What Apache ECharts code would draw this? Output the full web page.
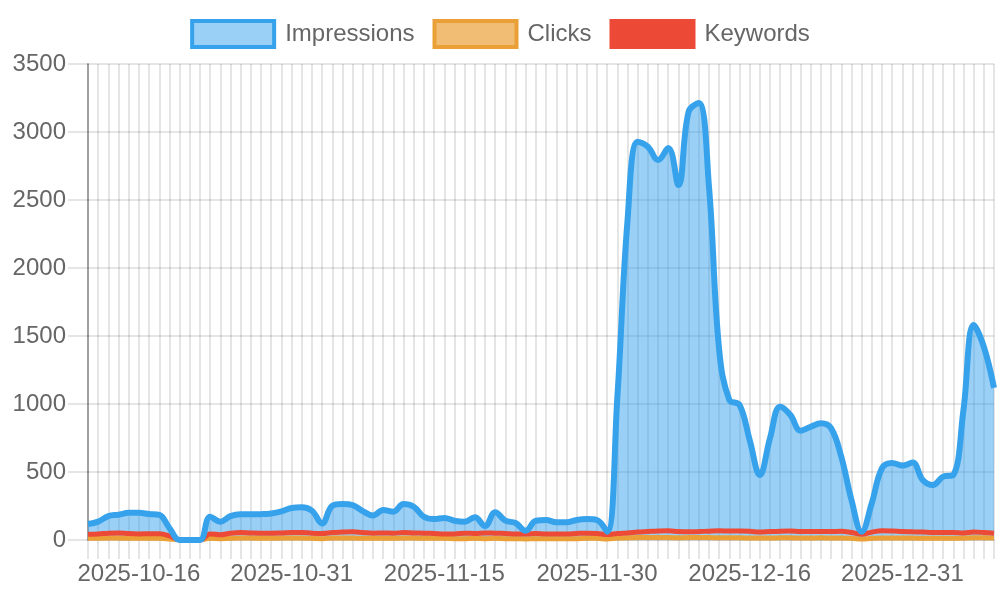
<!DOCTYPE html>
<html>
<head>
<meta charset="utf-8">
<script src="https://cdn.jsdelivr.net/npm/echarts@6/dist/echarts.min.js"></script>
<style>html,body{margin:0;padding:0;background:#fff}#c{width:1000px;height:600px}</style>
</head>
<body>
<div id="c"></div>
<script>
const dates = [
"2025-10-11","2025-10-12","2025-10-13","2025-10-14","2025-10-15","2025-10-16","2025-10-17","2025-10-18","2025-10-19","2025-10-20",
"2025-10-21","2025-10-22","2025-10-23","2025-10-24","2025-10-25","2025-10-26","2025-10-27","2025-10-28","2025-10-29","2025-10-30",
"2025-10-31","2025-11-01","2025-11-02","2025-11-03","2025-11-04","2025-11-05","2025-11-06","2025-11-07","2025-11-08","2025-11-09",
"2025-11-10","2025-11-11","2025-11-12","2025-11-13","2025-11-14","2025-11-15","2025-11-16","2025-11-17","2025-11-18","2025-11-19",
"2025-11-20","2025-11-21","2025-11-22","2025-11-23","2025-11-24","2025-11-25","2025-11-26","2025-11-27","2025-11-28","2025-11-29",
"2025-11-30","2025-12-01","2025-12-02","2025-12-03","2025-12-04","2025-12-05","2025-12-06","2025-12-07","2025-12-09","2025-12-10",
"2025-12-11","2025-12-12","2025-12-13","2025-12-14","2025-12-15","2025-12-16","2025-12-17","2025-12-18","2025-12-19","2025-12-20",
"2025-12-21","2025-12-22","2025-12-23","2025-12-24","2025-12-25","2025-12-26","2025-12-27","2025-12-28","2025-12-29","2025-12-30",
"2025-12-31","2026-01-01","2026-01-02","2026-01-03","2026-01-04","2026-01-05","2026-01-06","2026-01-07","2026-01-08","2026-01-09"
];
const impressions = [
118,135,176,186,200,200,191,184,88,0,
0,0,171,135,176,189,189,190,195,210,
235,240,215,122,252,265,257,212,180,220,
208,265,245,171,154,162,142,135,167,103,
204,142,125,68,142,147,130,130,147,154,
147,61,1050,2350,2929,2892,2794,2882,2610,3150,
3213,2600,1400,1030,993,735,478,750,980,919,
804,833,858,821,612,294,61,272,529,566,
547,569,441,404,466,478,956,1581,1421,1118
];
const clicks = [
12,12,14,14,12,12,12,12,8,2,
2,2,12,10,12,14,14,12,12,14,
14,14,12,10,14,14,14,12,12,12,
12,14,14,12,12,12,10,10,12,10,
12,10,10,8,10,10,10,10,10,12,
12,8,14,16,18,18,18,18,16,18,
18,18,16,16,16,14,14,14,16,16,
14,14,16,14,14,12,8,12,14,14,
14,14,12,12,12,12,14,16,16,14
];
const keywords = [
42,44,50,52,47,45,46,46,30,0,
0,0,45,38,50,55,52,50,50,52,
55,55,50,48,55,58,60,55,50,52,
50,55,52,50,48,45,45,50,48,52,
50,48,45,45,48,45,45,45,48,50,
48,40,48,52,58,62,66,68,62,60,
62,65,68,66,66,64,58,62,65,66,
62,62,62,62,64,55,42,58,68,66,
62,60,58,55,55,56,52,58,55,50
];
const yTicks = [0,500,1000,1500,2000,2500,3000,3500];

const chart = echarts.init(document.getElementById('c'), null, {renderer:'canvas'});
const font = 'Liberation Sans, Arial, Helvetica, sans-serif';
const gridColor = 'rgba(0,0,0,0.1)';
chart.setOption({
  animation: false,
  backgroundColor: '#fff',
  legend: {
    top: 14, left: 'center',
    icon: 'rect',
    itemWidth: 82, itemHeight: 26, itemGap: 18,
    textStyle: {color:'#666', fontSize: 24, fontFamily: font, padding:[0,0,0,6]},
    data: [
      {name:'Impressions', itemStyle:{color:'rgba(54,162,235,0.5)', borderColor:'#36a2eb', borderWidth:4}},
      {name:'Clicks', itemStyle:{color:'rgba(235,160,55,0.7)', borderColor:'#eba037', borderWidth:4}},
      {name:'Keywords', itemStyle:{color:'#ec4a37', borderColor:'#ec4a37', borderWidth:4}}
    ]
  },
  grid: {left: 88, right: 6, top: 64, bottom: 60, containLabel: false},
  xAxis: {
    type: 'category', data: dates, boundaryGap: false,
    axisLine: {show: true, lineStyle: {color: gridColor, width: 2}},
    axisTick: {show: true, interval: 0, length: 19, lineStyle: {color: gridColor, width: 2}},
    splitLine: {show: true, interval: 0, lineStyle: {color: gridColor, width: 2}},
    axisLabel: {
      interval: function(i){ return i % 15 === 5; },
      color: '#666', fontSize: 24, fontFamily: font, margin: 22
    }
  },
  yAxis: {
    type: 'value', min: 0, max: 3500, interval: 500,
    axisLine: {show: true, lineStyle: {color: 'rgba(0,0,0,0.3)', width: 2}},
    axisTick: {show: true, length: 20, lineStyle: {color: gridColor, width: 2}},
    splitLine: {show: true, lineStyle: {color: gridColor, width: 2}},
    axisLabel: {
      color: '#666', fontSize: 24, fontFamily: font, margin: 22,
      formatter: function(v){ return yTicks.indexOf(v) >= 0 ? String(v) : ''; }
    }
  },
  series: [
    {
      name: 'ImpressionsFill', type: 'line', data: impressions, smooth: 0.4,
      showSymbol: false, symbol: 'none', z: 1, silent: true,
      lineStyle: {width: 0, opacity: 0},
      areaStyle: {color: 'rgba(54,162,235,0.5)', opacity: 1, origin: 'start'}
    },
    {
      name: 'Impressions', type: 'line', data: impressions, smooth: 0.4,
      showSymbol: false, symbol: 'none', z: 5, clip: false,
      lineStyle: {color: '#36a2eb', width: 6},
      itemStyle: {color: '#36a2eb'}
    },
    {
      name: 'Clicks', type: 'line', data: clicks, smooth: 0.4,
      showSymbol: false, symbol: 'none', z: 3, clip: false,
      lineStyle: {color: '#eba037', width: 5},
      itemStyle: {color: '#eba037'}
    },
    {
      name: 'Keywords', type: 'line', data: keywords, smooth: 0.4,
      showSymbol: false, symbol: 'none', z: 4, clip: false,
      lineStyle: {color: '#ec4a37', width: 5},
      itemStyle: {color: '#ec4a37'}
    }
  ]
});
</script>
</body>
</html>
